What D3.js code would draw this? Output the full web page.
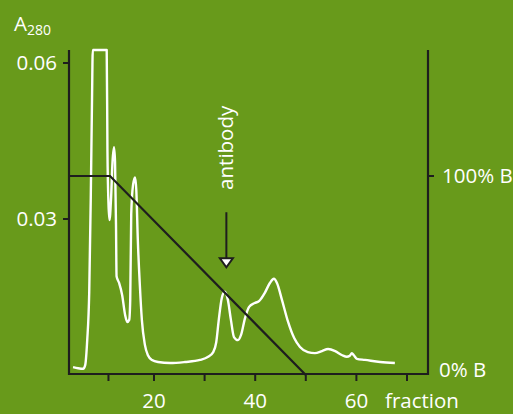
<!DOCTYPE html>
<html><head><meta charset="utf-8">
<script src="https://cdn.jsdelivr.net/npm/d3@7"></script>
<style>
html,body{margin:0;padding:0;background:#689a1b;}
svg{display:block;}
text{font-family:"Open Sans","Noto Sans",sans-serif;fill:#fff;font-weight:400;}
</style></head><body>
<svg id="chart" width="513" height="414"></svg>
<script>
// ---- data ----
const fractions = [4.0,5.0,6.0,6.4,6.8,7.2,7.5,7.75,7.9,10.65,10.8,11.0,11.2,11.5,11.8,12.1,12.3,12.5,12.6,13.1,13.7,14.3,14.7,15.1,15.3,15.5,15.85,16.25,16.5,16.8,17.2,17.6,18.2,18.8,19.6,20.8,23.2,26.1,29.1,30.7,31.7,32.3,32.8,33.4,34.0,34.6,35.2,35.8,36.6,37.2,38.0,38.8,39.8,40.75,41.9,42.9,43.7,44.3,45.3,46.5,47.7,48.85,50.4,51.8,53.2,54.4,55.8,57.2,58.1,58.7,59.1,59.5,60.1,61.7,64.7,67.6];
const absorbance = [0.0015,0.0013,0.0012,0.0019,0.0067,0.016,0.034,0.053,0.08,0.08,0.043,0.033,0.0298,0.0337,0.041,0.0438,0.041,0.028,0.019,0.0177,0.0154,0.0115,0.0102,0.0106,0.0144,0.031,0.0365,0.038,0.0356,0.026,0.0173,0.0106,0.0058,0.0038,0.0029,0.0025,0.0023,0.0025,0.0029,0.0035,0.0044,0.0063,0.0106,0.0148,0.016,0.0144,0.0106,0.0073,0.0067,0.0077,0.011,0.0131,0.0138,0.0142,0.0158,0.0177,0.0185,0.0177,0.0144,0.0102,0.0071,0.0054,0.0044,0.0042,0.0046,0.005,0.0046,0.0038,0.0035,0.0037,0.0042,0.0038,0.0031,0.0029,0.0025,0.0023];
const gradientFractions = [3.2, 11.3, 50];
const gradientB = [100, 100, 0];
const xTicks = [11, 20, 30, 40, 50, 60, 70];
const xTickLabels = ["", "20", "", "40", "", "60", ""];
const yTicks = [0.03, 0.06];
const yTickLabels = ["0.03", "0.06"];
const bTicks = [0, 100];
const bTickLabels = ["0% B", "100% B"];
const antibodyFraction = 34.3;
const arrowTop = 0.0313, arrowTip = 0.0207, labelBase = 0.0356;

// ---- layout ----
const svg = d3.select("#chart");
const L = 69, R = 428, T = 50, B = 375;
const x = d3.scaleLinear().domain([3.2, 74.15]).range([L, R]);
const y = d3.scaleLinear().domain([0, 0.0625]).range([B, T]).clamp(true);
const yB = d3.scaleLinear().domain([0, 100]).range([B, 176]);
const axisColor = "#1e1e1e";
const fs = 20.5;

// trace
const trace = fractions.map((f, i) => [f, absorbance[i]]);
svg.append("path").datum(trace)
  .attr("fill", "none").attr("stroke", "#fff").attr("stroke-width", 2.4)
  .attr("stroke-linejoin", "round")
  .attr("d", d3.line().x(d => x(d[0])).y(d => y(d[1])).curve(d3.curveMonotoneX));

// gradient
const grad = gradientFractions.map((f, i) => [f, gradientB[i]]);
svg.append("path").datum(grad)
  .attr("fill", "none").attr("stroke", axisColor).attr("stroke-width", 2.2)
  .attr("d", d3.line().x(d => x(d[0])).y(d => yB(d[1])));

// axes frame
svg.append("line").attr("x1", L).attr("x2", L).attr("y1", T).attr("y2", B)
  .attr("stroke", axisColor).attr("stroke-width", 2.2);
svg.append("line").attr("x1", R).attr("x2", R).attr("y1", T).attr("y2", B)
  .attr("stroke", axisColor).attr("stroke-width", 2.2);
svg.append("line").attr("x1", L - 1).attr("x2", R + 1).attr("y1", B - 1).attr("y2", B - 1)
  .attr("stroke", axisColor).attr("stroke-width", 2.2);

// x ticks
const xg = svg.append("g");
xTicks.forEach((t, i) => {
  xg.append("line").attr("x1", x(t)).attr("x2", x(t)).attr("y1", B - 1).attr("y2", B + 6)
    .attr("stroke", axisColor).attr("stroke-width", 2);
  if (xTickLabels[i]) xg.append("text").attr("x", x(t)).attr("y", 408)
    .attr("text-anchor", "middle").attr("font-size", fs).text(xTickLabels[i]);
});
svg.append("text").attr("x", 385).attr("y", 408).attr("font-size", fs).text("fraction");

// left ticks
yTicks.forEach((t, i) => {
  svg.append("line").attr("x1", L - 6).attr("x2", L).attr("y1", y(t)).attr("y2", y(t))
    .attr("stroke", axisColor).attr("stroke-width", 2);
  svg.append("text").attr("x", 57).attr("y", y(t)).attr("dy", "0.35em")
    .attr("text-anchor", "end").attr("font-size", fs).text(yTickLabels[i]);
});
const a = svg.append("text").attr("x", 14).attr("y", 31).attr("font-size", fs);
a.append("tspan").text("A");
a.append("tspan").attr("font-size", 14).attr("dy", 4).text("280");

// right ticks
bTicks.forEach((t, i) => {
  if (t > 0) svg.append("line").attr("x1", R).attr("x2", R + 6).attr("y1", yB(t)).attr("y2", yB(t))
    .attr("stroke", axisColor).attr("stroke-width", 2);
  svg.append("text").attr("x", t > 0 ? 442 : 439).attr("y", t > 0 ? yB(t) : 370)
    .attr("dy", "0.35em").attr("font-size", fs).text(bTickLabels[i]);
});

// antibody arrow
const ax = x(antibodyFraction);
svg.append("line").attr("x1", ax).attr("x2", ax).attr("y1", y(arrowTop)).attr("y2", y(arrowTip) - 9)
  .attr("stroke", axisColor).attr("stroke-width", 2);
const tip = y(arrowTip);
svg.append("path")
  .attr("d", `M${ax - 6.5},${tip - 9}L${ax + 6.5},${tip - 9}L${ax},${tip}Z`)
  .attr("fill", "#fff").attr("stroke", axisColor).attr("stroke-width", 2).attr("stroke-linejoin", "miter");
svg.append("text")
  .attr("transform", `translate(${ax + 7},${y(labelBase)}) rotate(-90)`)
  .attr("font-size", fs).text("antibody");
</script>
</body></html>
